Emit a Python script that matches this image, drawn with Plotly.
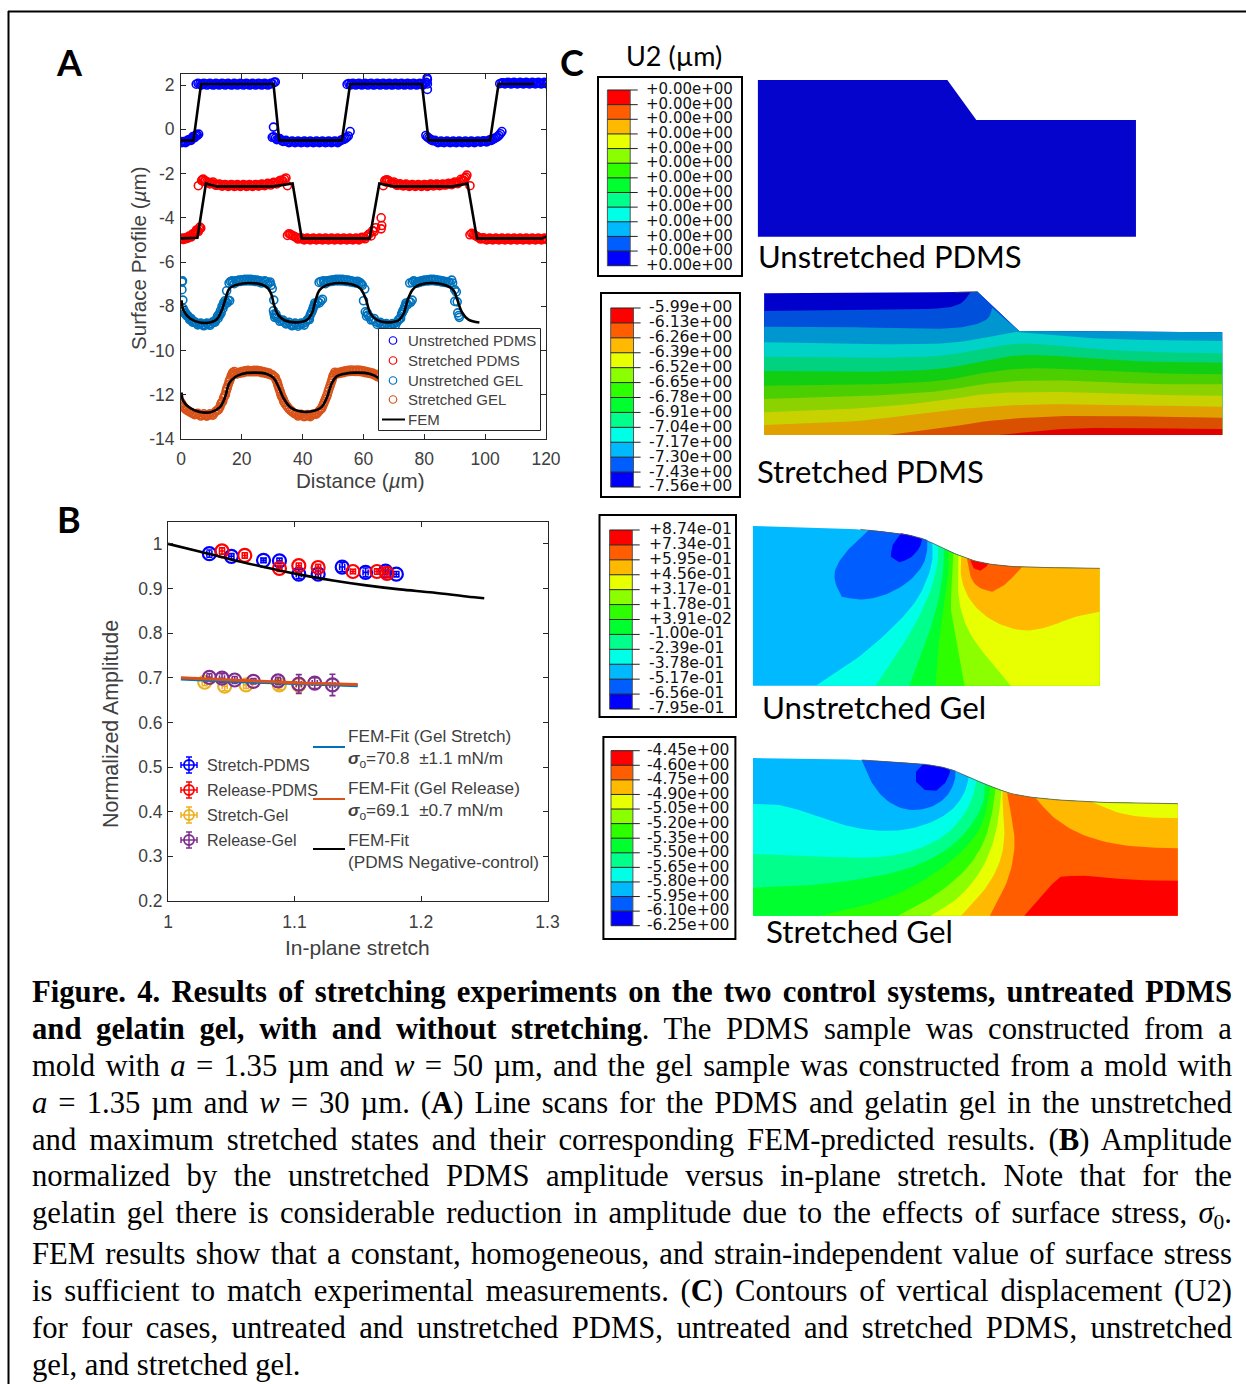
import plotly.graph_objects as go

W, H = 1246, 1384
SANS = "Liberation Sans"
SERIF = "Liberation Serif"
CAL = "Lato"
ABQ = "DejaVu Sans"
AXC = "#262626"
TXT = "#404040"

# ---------- Panel A data ----------
PDMS_UN = [(0,-.55),(.6,-.57),(1.2,-.58),(1.8,-.55),(2.4,-.52),(3,-.48),(3.6,-.42),(4.2,-.35),(4.8,-.3),(5.4,-.27),(5.8,-.22),
(5,2.04),(5.6,2.08),(6.2,2.05),(7,2.03),(8,2.06),(9,2.03),(10,2.05),(11,2.02),(12,2.05),(13,2.03),(14,2.06),(15,2.03),(16,2.04),(17,2.02),(18,2.05),(19,2.03),(20,2.06),(21,2.03),(22,2.05),(23,2.02),(24,2.05),(25,2.03),(26,2.06),(27,2.03),(28,2.04),(29,2.03),(30,2.06),(30.6,2.12),(31,2.14),
(30.4,.1),(30,-.36),(30.5,-.34),(31,-.4),(32,-.45),(33,-.5),(34,-.54),(35,-.56),(36,-.57),(37,-.55),(38,-.57),(39,-.56),(40,-.58),(41,-.55),(42,-.57),(43,-.56),(44,-.58),(45,-.55),(46,-.57),(47,-.56),(48,-.58),(49,-.55),(50,-.57),(51,-.55),(52,-.55),(53,-.48),(54,-.42),(55,-.3),(55.6,-.1),
(54.6,2.03),(55.2,2.07),(56,2.05),(57,2.03),(58,2.06),(59,2.03),(60,2.05),(61,2.03),(62,2.06),(63,2.02),(64,2.05),(65,2.03),(66,2.06),(67,2.03),(68,2.05),(69,2.02),(70,2.05),(71,2.03),(72,2.06),(73,2.03),(74,2.05),(75,2.03),(76,2.06),(77,2.03),(78,2.05),(79,2.05),(80,2.06),(80.6,2.12),(81,2.05),(80.9,2.32),(81,2.25),(81,1.8),
(80.5,-.28),(81,-.35),(82,-.45),(83,-.52),(84,-.55),(85,-.57),(86,-.58),(87,-.55),(88,-.57),(89,-.56),(90,-.58),(91,-.55),(92,-.57),(93,-.56),(94,-.58),(95,-.55),(96,-.57),(97,-.56),(98,-.55),(99,-.54),(100,-.55),(101,-.52),(102,-.5),(103,-.42),(104,-.34),(105,-.2),(105.5,-.1),
(104.8,2.06),(105.5,2.1),(106,2.1),(107,2.08),(108,2.1),(109,2.07),(110,2.09),(111,2.07),(112,2.1),(113,2.07),(114,2.09),(115,2.07),(116,2.1),(117,2.08),(118,2.07),(119,2.09),(120,2.08),(120.6,2.1)]
PDMS_UN_2 = [(.3,-.6),(.9,-.55),(1.5,-.6),(2.1,-.5),(2.7,-.46),(3.3,-.5),(3.9,-.33),(4.5,-.38),(5.1,-.24),
(6.6,2.0),(7.5,2.08),(8.5,2.0),(9.5,2.08),(10.5,2.0),(11.5,2.08),(12.5,2.0),(13.5,2.08),(14.5,2.0),(15.5,2.08),(16.5,2.0),(17.5,2.08),(18.5,2.0),(19.5,2.08),(20.5,2.0),(21.5,2.08),(22.5,2.0),(23.5,2.08),(24.5,2.0),(25.5,2.08),(26.5,2.0),(27.5,2.08),(28.5,2.0),(29.5,2.08),
(31.5,-.47),(32.5,-.42),(33.5,-.55),(34.5,-.5),(35.5,-.6),(36.5,-.53),(37.5,-.6),(38.5,-.53),(39.5,-.6),(40.5,-.53),(41.5,-.6),(42.5,-.53),(43.5,-.6),(44.5,-.53),(45.5,-.6),(46.5,-.53),(47.5,-.6),(48.5,-.53),(49.5,-.6),(50.5,-.53),(51.5,-.6),(52.5,-.5),(53.5,-.45),(54.5,-.36),
(55.7,2.0),(56.5,2.08),(57.5,2.0),(58.5,2.08),(59.5,2.0),(60.5,2.08),(61.5,2.0),(62.5,2.08),(63.5,2.0),(64.5,2.08),(65.5,2.0),(66.5,2.08),(67.5,2.0),(68.5,2.08),(69.5,2.0),(70.5,2.08),(71.5,2.0),(72.5,2.08),(73.5,2.0),(74.5,2.08),(75.5,2.0),(76.5,2.08),(77.5,2.0),(78.5,2.08),(79.5,2.0),
(81.5,-.4),(82.5,-.5),(83.5,-.5),(84.5,-.6),(85.5,-.53),(86.5,-.6),(87.5,-.53),(88.5,-.6),(89.5,-.53),(90.5,-.6),(91.5,-.53),(92.5,-.6),(93.5,-.53),(94.5,-.6),(95.5,-.53),(96.5,-.6),(97.5,-.53),(98.5,-.58),(99.5,-.52),(100.5,-.57),(101.5,-.48),(102.5,-.46),(103.5,-.38),(104.5,-.28),
(106.5,2.05),(107.5,2.12),(108.5,2.05),(109.5,2.12),(110.5,2.05),(111.5,2.12),(112.5,2.05),(113.5,2.12),(114.5,2.05),(115.5,2.12),(116.5,2.05),(117.5,2.12),(118.5,2.05),(119.5,2.12),(120.3,2.05)]

PDMS_ST = [(0,-4.95),(.6,-4.96),(1.2,-4.95),(1.8,-4.93),(2.4,-4.88),(3,-4.85),(3.6,-4.8),(4.2,-4.75),(4.8,-4.65),(5.4,-4.58),(6,-4.52),(6.5,-4.47),
(5.7,-2.55),(6.8,-2.32),(7.3,-2.25),(8,-2.33),(9,-2.4),(10,-2.43),(11,-2.48),(12,-2.52),(13,-2.5),(14,-2.54),(15,-2.52),(16,-2.55),(17,-2.52),(18,-2.56),(19,-2.53),(20,-2.55),(21,-2.52),(22,-2.56),(23,-2.53),(24,-2.54),(25,-2.52),(26,-2.53),(27,-2.5),(28,-2.5),(29,-2.47),(30,-2.44),(31,-2.42),(32,-2.38),(33,-2.3),(34,-2.25),(34.5,-2.2),(35,-2.55),
(35,-4.8),(35.5,-4.72),(36,-4.75),(37,-4.82),(38,-4.9),(39,-4.93),(40,-4.96),(41,-4.95),(42,-4.97),(43,-4.95),(44,-4.97),(45,-4.95),(46,-4.97),(47,-4.95),(48,-4.97),(49,-4.95),(50,-4.97),(51,-4.95),(52,-4.97),(53,-4.95),(54,-4.97),(55,-4.95),(56,-4.97),(57,-4.95),(58,-4.96),(59,-4.93),(60,-4.9),(61,-4.85),(62,-4.72),(63,-4.58),(64,-4.45),(65.8,-4.0),(66,-4.35),(65.8,-4.5),
(66.5,-2.55),(67,-2.32),(67.6,-2.28),(68.5,-2.35),(69.5,-2.42),(70.5,-2.47),(71.5,-2.5),(72.5,-2.52),(73.5,-2.54),(74.5,-2.52),(75.5,-2.55),(76.5,-2.52),(77.5,-2.55),(78.5,-2.52),(79.5,-2.55),(80.5,-2.52),(81.5,-2.54),(82.5,-2.5),(83.5,-2.52),(84.5,-2.5),(85.5,-2.52),(86.5,-2.5),(87.5,-2.48),(88.5,-2.47),(89.5,-2.45),(90.5,-2.42),(91.5,-2.38),(92.5,-2.3),(93.2,-2.22),(94,-2.07),(95,-2.55),
(95,-4.77),(95.6,-4.7),(96.2,-4.75),(97,-4.82),(98,-4.9),(99,-4.93),(100,-4.96),(101,-4.95),(102,-4.97),(103,-4.95),(104,-4.97),(105,-4.95),(106,-4.97),(107,-4.95),(108,-4.97),(109,-4.95),(110,-4.97),(111,-4.95),(112,-4.97),(113,-4.95),(114,-4.97),(115,-4.95),(116,-4.97),(117,-4.95),(118,-4.96),(119,-4.95),(120,-4.96)]
PDMS_ST_2 = [(.3,-4.92),(.9,-4.98),(1.5,-4.9),(2.1,-4.93),(2.7,-4.82),(3.3,-4.87),(3.9,-4.72),(4.5,-4.72),(5.1,-4.55),(5.7,-4.62),(6.2,-4.42),
(7,-2.28),(7.6,-2.36),(8.5,-2.38),(9.5,-2.47),(10.5,-2.38),(11.5,-2.53),(12.5,-2.47),(13.5,-2.57),(14.5,-2.5),(15.5,-2.58),(16.5,-2.5),(17.5,-2.58),(18.5,-2.5),(19.5,-2.58),(20.5,-2.5),(21.5,-2.58),(22.5,-2.5),(23.5,-2.58),(24.5,-2.5),(25.5,-2.57),(26.5,-2.47),(27.5,-2.55),(28.5,-2.44),(29.5,-2.52),(30.5,-2.4),(31.5,-2.47),(32.5,-2.32),(33.5,-2.34),
(36.5,-4.8),(37.5,-4.86),(38.5,-4.96),(39.5,-4.9),(40.5,-5.0),(41.5,-4.92),(42.5,-5.0),(43.5,-4.92),(44.5,-5.0),(45.5,-4.92),(46.5,-5.0),(47.5,-4.92),(48.5,-5.0),(49.5,-4.92),(50.5,-5.0),(51.5,-4.92),(52.5,-5.0),(53.5,-4.92),(54.5,-5.0),(55.5,-4.92),(56.5,-5.0),(57.5,-4.92),(58.5,-5.0),(59.5,-4.88),(60.5,-4.95),(61.5,-4.78),(62.5,-4.82),(63.5,-4.62),
(67.3,-2.38),(68,-2.3),(69,-2.42),(70,-2.38),(71,-2.53),(72,-2.46),(73,-2.56),(74,-2.48),(75,-2.58),(76,-2.5),(77,-2.58),(78,-2.5),(79,-2.58),(80,-2.5),(81,-2.58),(82,-2.48),(83,-2.56),(84,-2.47),(85,-2.55),(86,-2.47),(87,-2.52),(88,-2.44),(89,-2.5),(90,-2.38),(91,-2.46),(92,-2.26),(93,-2.32),(93.7,-2.16),
(96.6,-4.8),(97.5,-4.86),(98.5,-4.96),(99.5,-4.9),(100.5,-5.0),(101.5,-4.92),(102.5,-5.0),(103.5,-4.92),(104.5,-5.0),(105.5,-4.92),(106.5,-5.0),(107.5,-4.92),(108.5,-5.0),(109.5,-4.92),(110.5,-5.0),(111.5,-4.92),(112.5,-5.0),(113.5,-4.92),(114.5,-5.0),(115.5,-4.92),(116.5,-5.0),(117.5,-4.92),(118.5,-5.0),(119.5,-4.92),(120.3,-4.98)]

GEL_UN = [(.3,-6.9),(.5,-6.85),(.3,-7.25),(.6,-7.72),(.7,-8.1),(1,-8.2),(1.5,-8.3),(2,-8.4),(2.5,-8.5),(3,-8.55),(3.5,-8.62),(4,-8.7),(5,-8.76),(6,-8.8),(7,-8.83),(8,-8.83),(9,-8.82),(10,-8.78),(11,-8.7),(11.5,-8.6),(12,-8.45),(12.5,-8.35),(13,-8.2),(13.5,-8.0),(14,-7.85),(14.5,-7.75),(15,-7.3),(15.5,-7.72),(16,-7.75),(15.8,-6.95),(16.3,-6.88),(17,-6.92),(18,-6.85),(19,-6.82),(20,-6.8),(21,-6.78),(22,-6.78),(23,-6.78),(24,-6.8),(25,-6.82),(26,-6.85),(27,-6.9),(28,-6.88),(29,-6.95),(29.6,-7.05),(30,-7.2),(30.5,-7.72),(30.4,-8.2),(30.6,-8.35),(31,-8.42),(31.5,-8.5),(32,-8.55),(33,-8.65),(34,-8.72),(35,-8.78),(36,-8.82),(37,-8.83),(38,-8.84),(39,-8.82),(40,-8.78),(41,-8.72),(42,-8.55),(42.5,-8.4),(43,-8.25),(43.5,-8.05),(44,-7.85),(45,-7.8),(46,-7.75),(46.5,-7.68),(45.4,-6.92),(46,-6.88),(47,-6.92),(48,-6.85),(49,-6.83),(50,-6.8),(51,-6.78),(52,-6.78),(53,-6.78),(54,-6.8),(55,-6.82),(56,-6.85),(57,-6.88),(58,-6.87),(59,-6.95),(59.6,-7.05),(60.4,-7.22),(60,-7.75),(60.6,-8.25),(61.5,-8.4),(62,-8.48),(63,-8.6),(64,-8.7),(65,-8.75),(66,-8.8),(67,-8.83),(68,-8.84),(69,-8.83),(70,-8.8),(71,-8.72),(72,-8.55),(72.5,-8.35),(73,-8.2),(73.5,-8.05),(74,-7.85),(75,-7.8),(76,-7.72),(75.2,-6.95),(76,-6.92),(77,-6.9),(78,-6.88),(79,-6.85),(80,-6.82),(81,-6.8),(82,-6.78),(83,-6.78),(84,-6.8),(85,-6.83),(86,-6.85),(87,-6.88),(88,-6.9),(89,-6.82),(89.3,-6.95),(90,-7.25),(90.5,-7.35),(90,-7.78),(90.8,-7.8),(91,-8.3),(91.3,-8.42),(91.5,-8.5)]
GEL_UN_2 = [(1.2,-8.32),(1.8,-8.42),(2.3,-8.44),(2.8,-8.6),(3.3,-8.55),(3.8,-8.72),(4.5,-8.7),(5.5,-8.84),(6.5,-8.76),(7.5,-8.88),(8.5,-8.76),(9.5,-8.86),(10.5,-8.7),(11.2,-8.72),(12.2,-8.55),(12.8,-8.4),(13.2,-8.3),(13.8,-8.1),(14.2,-7.95),(14.8,-7.85),(15.2,-7.85),(16.8,-6.85),(17.5,-6.98),(18.5,-6.9),(19.5,-6.88),(20.5,-6.86),(21.5,-6.85),(22.5,-6.85),(23.5,-6.86),(24.5,-6.88),(25.5,-6.9),(26.5,-6.95),(27.5,-6.85),(28.5,-7.0),(29.3,-6.9),
(30.8,-8.5),(31.2,-8.35),(32.5,-8.68),(33.5,-8.62),(34.5,-8.8),(35.5,-8.72),(36.5,-8.88),(37.5,-8.76),(38.5,-8.9),(39.5,-8.76),(40.5,-8.85),(41.5,-8.62),(42.2,-8.6),(42.8,-8.3),(43.3,-8.15),(43.8,-7.95),(44.5,-7.9),(45.5,-7.85),(46.8,-6.85),(47.5,-6.98),(48.5,-6.9),(49.5,-6.88),(50.5,-6.85),(51.5,-6.85),(52.5,-6.85),(53.5,-6.86),(54.5,-6.88),(55.5,-6.9),(56.5,-6.92),(57.5,-6.95),(58.5,-6.9),(59.3,-7.0),
(61,-8.45),(61.2,-8.3),(62.5,-8.62),(63.5,-8.55),(64.5,-8.82),(65.5,-8.72),(66.5,-8.88),(67.5,-8.78),(68.5,-8.9),(69.5,-8.78),(70.5,-8.86),(71.5,-8.62),(72.2,-8.55),(72.8,-8.28),(73.3,-8.15),(73.8,-7.95),(74.5,-7.92),(75.5,-7.82),(76.5,-6.85),(77.5,-6.96),(78.5,-6.92),(79.5,-6.88),(80.5,-6.86),(81.5,-6.85),(82.5,-6.84),(83.5,-6.85),(84.5,-6.87),(85.5,-6.9),(86.5,-6.92),(87.5,-6.94),(88.5,-6.96)]

GEL_ST = [(0,-12.35),(.6,-12.5),(1.2,-12.6),(2,-12.7),(3,-12.78),(4,-12.85),(5,-12.88),(6,-12.9),(7,-12.92),(8,-12.93),(9,-12.92),(10,-12.9),(11,-12.82),(12,-12.7),(12.8,-12.55),(13.4,-12.35),(14,-12.15),(14.6,-12),(15,-11.75),(15.5,-11.55),(16,-11.35),(16.5,-11.15),(17,-11.0),(17.5,-10.95),(18,-11.05),(19,-10.98),(20,-10.95),(21,-10.92),(22,-10.9),(23,-10.92),(24,-10.9),(25,-10.9),(26,-10.92),(27,-10.95),(28,-10.98),(29,-11.02),(30,-11.1),(31,-11.22),(31.6,-11.42),(32,-11.62),(32.6,-11.85),(33,-12.05),(33.6,-12.2),(34,-12.35),(35,-12.55),(36,-12.7),(37,-12.82),(38,-12.88),(39,-12.92),(40,-12.95),(41,-12.95),(42,-12.95),(43,-12.92),(44,-12.88),(45,-12.8),(46,-12.65),(46.6,-12.5),(47.2,-12.3),(47.8,-12.1),(48.4,-11.85),(49,-11.6),(49.6,-11.35),(50,-11.15),(50.6,-10.98),(51.2,-11.02),(52,-10.98),(53,-10.95),(54,-10.92),(55,-10.9),(56,-10.88),(57,-10.9),(58,-10.88),(59,-10.9),(60,-10.92),(61,-10.95),(62,-10.98),(63,-11.02),(64,-11.08),(65,-11.15),(66,-11.3)]
GEL_ST_2 = [(.3,-12.42),(.9,-12.55),(1.6,-12.66),(2.5,-12.74),(3.5,-12.82),(4.5,-12.9),(5.5,-12.84),(6.5,-12.96),(7.5,-12.86),(8.5,-12.97),(9.5,-12.86),(10.5,-12.92),(11.5,-12.74),(12.4,-12.66),(13.1,-12.42),(13.7,-12.3),(14.3,-12.05),(14.8,-11.85),(15.2,-11.68),(15.8,-11.42),(16.2,-11.28),(16.8,-11.08),(17.2,-11.06),(18.5,-11.06),(19.5,-11.02),(20.5,-11.0),(21.5,-10.96),(22.5,-10.96),(23.5,-10.96),(24.5,-10.96),(25.5,-10.96),(26.5,-11.0),(27.5,-11.02),(28.5,-11.06),(29.5,-11.1),(30.5,-11.16),(31.3,-11.34),(31.8,-11.52),(32.3,-11.74),(32.8,-11.95),(33.3,-12.12),(33.8,-12.3),(34.5,-12.46),(35.5,-12.64),(36.5,-12.76),(37.5,-12.86),(38.5,-12.96),(39.5,-12.88),(40.5,-12.99),(41.5,-12.9),(42.5,-12.99),(43.5,-12.87),(44.5,-12.88),(45.5,-12.72),(46.3,-12.6),(46.9,-12.4),(47.5,-12.2),(48.1,-12.0),(48.7,-11.72),(49.3,-11.48),(49.8,-11.25),(50.3,-11.08),(51.6,-11.05),(52.5,-11.02),(53.5,-11.0),(54.5,-10.96),(55.5,-10.95),(56.5,-10.94),(57.5,-10.95),(58.5,-10.95),(59.5,-10.97),(60.5,-11.0),(61.5,-11.02),(62.5,-11.05),(63.5,-11.1),(64.5,-11.18)]

FEM_PDMS_UN_X = [0,4.1,6.6,30.4,32.3,52.9,55.6,79.2,81.4,101.6,104.4,116]
FEM_PDMS_UN_Y = [-.5,-.5,2.05,2.05,-.5,-.5,2.05,2.05,-.5,-.5,2.05,2.05]
FEM_PDMS_ST_X = [0,5.4,8.2,11.7,30.4,36.7,39.7,62,65.2,69.8,89.5,94.2,97.3,118.6,120]
FEM_PDMS_ST_Y = [-4.93,-4.9,-2.45,-2.58,-2.58,-2.45,-4.93,-4.93,-2.45,-2.58,-2.58,-2.45,-4.93,-4.93,-4.85]
FEM_GEL_UN_X = [.2,.8,3,6.2,9.5,11.7,13.4,14.5,15.9,17.8,22,26.5,28.7,29.8,30.6,32,34,37.5,41.3,43,44.1,45.5,47.4,52,56.4,59,60.7,62.3,64.5,67.8,71.6,73.2,74.5,76,77.6,82,86.3,89.6,90.7,92.3,94.5,98.1]
FEM_GEL_UN_Y = [-7.73,-8.18,-8.55,-8.73,-8.73,-8.6,-8.18,-7.73,-7.2,-7.05,-6.95,-7.02,-7.2,-7.5,-7.95,-8.4,-8.63,-8.73,-8.63,-8.33,-7.8,-7.28,-7.08,-6.95,-7.02,-7.2,-7.65,-8.33,-8.63,-8.73,-8.63,-8.33,-7.73,-7.28,-7.08,-6.95,-7.02,-7.28,-7.65,-8.25,-8.6,-8.73]
FEM_GEL_ST_X = [.2,.8,3,6.2,10,12.8,14.4,15.9,17.8,20,23.8,28.2,30.4,32,33.7,35.9,39.1,43,46.2,47.9,49.6,51.2,53.4,57.8,62.2,64.9,66.5]
FEM_GEL_ST_Y = [-11.9,-12.3,-12.6,-12.78,-12.78,-12.56,-12.15,-11.47,-11.2,-11.06,-11,-11.06,-11.24,-11.62,-12.15,-12.56,-12.75,-12.75,-12.56,-12.15,-11.47,-11.17,-11.06,-11,-11.06,-11.24,-11.5]
A_XTICKS = [0,20,40,60,80,100,120]
A_YTICKS = [2,0,-2,-4,-6,-8,-10,-12,-14]
A_YLABELS = ["2","0","-2","-4","-6","-8","-10","-12","-14"]
A_NAMES = ["Unstretched PDMS","Stretched PDMS","Unstretched GEL","Stretched GEL","FEM"]

# ---------- Panel B data ----------
B_STRETCH_PDMS_X = [1.0327,1.0501,1.0755,1.0881,1.1034,1.1187,1.1377,1.1562,1.172,1.1805]
B_STRETCH_PDMS_Y = [.978,.972,.963,.962,.932,.932,.948,.936,.939,.932]
B_STRETCH_PDMS_E = [.008,.006,.005,.006,.010,.008,.010,.010,.008,.006]
B_RELEASE_PDMS_X = [1.0427,1.0607,1.0881,1.1034,1.1187,1.1462,1.1652,1.1731]
B_RELEASE_PDMS_Y = [.984,.974,.945,.951,.947,.938,.938,.934]
B_RELEASE_PDMS_E = [.007,.006,.007,.006,.007,.005,.006,.008]
B_STRETCH_GEL_X = [1.029,1.0448,1.0617,1.088,1.1034]
B_STRETCH_GEL_Y = [.690,.681,.684,.684,.684]
B_STRETCH_GEL_E = [.008,.010,.008,.010,.016]
B_RELEASE_GEL_X = [1.0327,1.0427,1.0527,1.0675,1.087,1.1034,1.116,1.13]
B_RELEASE_GEL_Y = [.701,.699,.695,.692,.693,.686,.688,.684]
B_RELEASE_GEL_E = [.008,.010,.008,.006,.008,.021,.012,.024]
B_FEM_NEG_X = [1.0,1.0248,1.0512,1.0776,1.104,1.1304,1.1568,1.1832,1.2096,1.236,1.25]
B_FEM_NEG_Y = [1.0,.983,.964,.947,.931,.918,.907,.898,.891,.882,.878]
B_FEM_STRETCH_X = [1.0102,1.05,1.1,1.15]
B_FEM_STRETCH_Y = [.697,.692,.687,.682]
B_FEM_RELEASE_X = [1.0102,1.05,1.1,1.15]
B_FEM_RELEASE_Y = [.700,.695,.689,.685]
B_XTICKS = [1,1.1,1.2,1.3]
B_XLABELS = ["1","1.1","1.2","1.3"]
B_YTICKS = [.2,.3,.4,.5,.6,.7,.8,.9,1]
B_YLABELS = ["0.2","0.3","0.4","0.5","0.6","0.7","0.8","0.9","1"]
B_KEYS = ["Stretch-PDMS","Release-PDMS","Stretch-Gel","Release-Gel"]

# ---------- Panel C data ----------
CMAP = ["#FF0000","#FF5D00","#FFB900","#E7FF00","#8BFF00","#2EFF00","#00FF2E","#00FF8B","#00FFE7","#00B9FF","#005DFF","#0000FF"]
LABELS_1 = ["+0.00e+00"]*13
LABELS_2 = ["-5.99e+00","-6.13e+00","-6.26e+00","-6.39e+00","-6.52e+00","-6.65e+00","-6.78e+00","-6.91e+00","-7.04e+00","-7.17e+00","-7.30e+00","-7.43e+00","-7.56e+00"]
LABELS_3 = ["+8.74e-01","+7.34e-01","+5.95e-01","+4.56e-01","+3.17e-01","+1.78e-01","+3.91e-02","-1.00e-01","-2.39e-01","-3.78e-01","-5.17e-01","-6.56e-01","-7.95e-01"]
LABELS_4 = ["-4.45e+00","-4.60e+00","-4.75e+00","-4.90e+00","-5.05e+00","-5.20e+00","-5.35e+00","-5.50e+00","-5.65e+00","-5.80e+00","-5.95e+00","-6.10e+00","-6.25e+00"]

# Contour regions (panel-local units); painted in order.
P1 = [("#0404CC",[(405,120),(862,120),(932,240),(1317,240),(1317,590),(405,590)])]

P2 = [
("#0000CC",[(420,25),(700,24),(935,20),(1035,138),(1525,142),(1525,450),(420,450)]),
("#0050DC",[(420,78),(700,75),(850,72),(890,60),(905,45),(918,22),(935,20),(1035,138),(1525,142),(1525,450),(420,450)]),
("#0096D0",[(420,125),(600,125),(800,132),(880,130),(920,122),(950,110),(965,95),(970,68),(1035,138),(1525,142),(1525,450),(420,450)]),
("#00D2C8",[(420,172),(650,178),(850,178),(950,160),(1020,140),(1045,142),(1150,155),(1300,165),(1525,168),(1525,450),(420,450)]),
("#00D27F",[(420,215),(650,220),(850,215),(950,190),(1040,172),(1150,185),(1300,200),(1525,205),(1525,450),(420,450)]),
("#12CE12",[(420,258),(650,262),(850,255),(950,225),(1050,207),(1150,215),(1300,230),(1525,233),(1525,450),(420,450)]),
("#4CCF00",[(420,302),(650,300),(850,290),(950,262),(1060,247),(1200,255),(1350,265),(1525,268),(1525,450),(420,450)]),
("#8CD200",[(420,342),(650,335),(850,320),(950,295),(1070,285),(1200,288),(1350,298),(1525,298),(1525,450),(420,450)]),
("#C8D200",[(420,382),(650,372),(850,348),(950,325),(1080,320),(1200,322),(1350,330),(1525,332),(1525,450),(420,450)]),
("#E0A000",[(420,420),(650,410),(800,385),(900,370),(1050,358),(1180,358),(1350,362),(1525,365),(1525,450),(420,450)]),
("#D85000",[(720,450),(850,430),(950,408),(1080,395),(1200,392),(1350,395),(1525,398),(1525,450)]),
("#E00000",[(985,450),(1100,435),(1200,428),(1350,430),(1525,432),(1525,450)]),
]

P3_OUT = [(482,48),(650,52),(800,58),(900,68),(960,78),(1000,92),(1050,118),(1100,140),(1150,157),(1220,168),(1300,172),(1508,175)]
P3 = [
("#00B9FF",P3_OUT+[(1508,527),(482,527)]),
("#005DFF",[(825,60),(770,110),(725,170),(722,215),(745,260),(800,272),(870,258),(940,220),(985,170),(998,125),(998,90),(960,78),(900,68)]),
("#0000FF",[(920,70),(893,105),(890,140),(915,157),(950,145),(978,110),(982,88),(960,78)]),
("#00FFE7",[(668,527),(800,440),(900,350),(970,270),(1005,190),(1015,140),(1012,98),(1050,118),(1100,140),(1150,157),(1220,168),(1300,172),(1508,175),(1508,527)]),
("#00FF8B",[(845,527),(910,430),(965,340),(1010,240),(1030,160),(1030,108),(1050,118),(1100,140),(1150,157),(1220,168),(1300,172),(1508,175),(1508,527)]),
("#00FF2E",[(945,527),(985,420),(1020,320),(1045,200),(1048,117),(1100,140),(1150,157),(1220,168),(1300,172),(1508,175),(1508,527)]),
("#2EFF00",[(1022,527),(1030,400),(1050,280),(1062,180),(1060,124),(1100,140),(1150,157),(1220,168),(1300,172),(1508,175),(1508,527)]),
("#8BFF00",[(1108,527),(1085,400),(1065,300),(1072,200),(1075,130),(1100,140),(1150,157),(1220,168),(1300,172),(1508,175),(1508,527)]),
("#E7FF00",[(1245,527),(1180,450),(1120,370),(1090,280),(1088,190),(1090,136),(1100,140),(1150,157),(1220,168),(1300,172),(1508,175),(1508,527)]),
("#FFB900",[(1098,140),(1095,200),(1120,270),(1180,330),(1270,365),(1350,355),(1430,320),(1508,305),(1508,175),(1300,172),(1220,168),(1150,157)]),
("#FF5D00",[(1115,145),(1125,205),(1150,235),(1190,245),(1230,225),(1278,171),(1220,168),(1150,157)]),
("#FF0000",[(1125,150),(1135,175),(1155,182),(1172,172),(1178,160),(1150,157)]),
]

P4_OUT = [(426,84),(600,86),(710,90),(800,96),(880,103),(930,113),(970,130),(1020,157),(1060,175),(1100,192),(1170,205),(1260,213),(1350,218),(1536,221)]
P4_TAIL = [(1060,175),(1100,192),(1170,205),(1260,213),(1350,218),(1536,221),(1536,557)]
P4 = [
("#00B9FF",P4_OUT+[(1536,557),(426,557)]),
("#005DFF",[(710,90),(735,160),(775,215),(830,243),(890,235),(935,200),(955,150),(955,122),(930,113),(880,103),(800,96)]),
("#0000FF",[(870,103),(852,125),(852,155),(875,180),(905,182),(930,160),(942,122),(930,113),(880,103)]),
("#00FFE7",[(426,222),(500,222),(600,262),(700,298),(800,305),(880,285),(945,245),(980,190),(990,140),(1020,157)]+P4_TAIL+[(426,557)]),
("#00FF8B",[(426,372),(550,376),(700,385),(800,378),(900,340),(960,285),(1000,210),(1010,150),(1020,157)]+P4_TAIL+[(426,557)]),
("#00FF2E",[(426,473),(560,468),(700,450),(830,420),(930,365),(990,300),(1030,220),(1032,163)]+P4_TAIL+[(426,557)]),
("#2EFF00",[(600,557),(750,520),(880,450),(980,360),(1030,280),(1047,169)]+P4_TAIL),
("#8BFF00",[(805,557),(900,500),(985,420),(1030,340),(1050,260),(1060,175)]+P4_TAIL[1:]),
("#E7FF00",[(890,557),(960,510),(1020,430),(1055,340),(1070,250),(1075,181)]+P4_TAIL[1:]),
("#FFB900",[(970,557),(1040,470),(1075,390),(1085,310),(1078,235),(1078,184)]+P4_TAIL[1:]),
("#FF5D00",[(1045,557),(1095,450),(1112,350),(1105,280),(1090,189),(1100,192),(1165,205),(1210,265),(1290,320),(1400,350),(1536,355),(1536,557)]),
("#FF0000",[(1135,557),(1200,470),(1230,440),(1290,435),(1400,450),(1536,452),(1536,557)]),
("#E7FF00",[(1310,216),(1380,250),(1450,263),(1536,264),(1536,221),(1350,218)]),
]
P3_EDGE = P3_OUT[2:]
P4_EDGE = P4_OUT[2:]
P2_EDGE = [(880,22),(935,20)]

CAPTION = [
"<b>Figure. 4. Results of stretching experiments on the two control systems, untreated PDMS</b>",
"<b>and gelatin gel, with and without stretching</b>. The PDMS sample was constructed from a",
"mold with <i>a</i> = 1.35 µm and <i>w</i> = 50 µm, and the gel sample was constructed from a mold with",
"<i>a</i> = 1.35 µm and <i>w</i> = 30 µm. (<b>A</b>) Line scans for the PDMS and gelatin gel in the unstretched",
"and maximum stretched states and their corresponding FEM-predicted results. (<b>B</b>) Amplitude",
"normalized by the unstretched PDMS amplitude versus in-plane stretch. Note that for the",
"gelatin gel there is considerable reduction in amplitude due to the effects of surface stress, <i>σ</i><sub>0</sub>.",
"FEM results show that a constant, homogeneous, and strain-independent value of surface stress",
"is sufficient to match experimental measurements. (<b>C</b>) Contours of vertical displacement (U2)",
"for four cases, untreated and unstretched PDMS, untreated and stretched PDMS, unstretched",
"gel, and stretched gel.",
]
CAPTION_Y = [992,1029,1066,1103,1140,1176,1215,1254,1291,1328,1365]

# ---------- helpers ----------
fx = lambda x: x / W
fy = lambda y: 1 - y / H
ann, shapes = [], []

def text(x, y, s, size, font=SANS, color="black", anchor="left", angle=0):
    ann.append(dict(x=fx(x), y=fy(y), xref="paper", yref="paper", text=s, showarrow=False, xanchor=anchor,
                    yanchor="middle", align=anchor, textangle=angle, borderpad=0, borderwidth=0,
                    font=dict(family=font, size=size, color=color)))

def rect(x0, y0, x1, y1, fill=None, line=None, lw=1):
    shapes.append(dict(type="rect", xref="paper", yref="paper", x0=fx(x0), x1=fx(x1), y0=fy(y0), y1=fy(y1),
                       fillcolor=fill or "rgba(0,0,0,0)", line=dict(color=line or "rgba(0,0,0,0)", width=lw if line else 0)))

def seg(x0, y0, x1, y1, color="black", lw=1):
    shapes.append(dict(type="line", xref="paper", yref="paper", x0=fx(x0), x1=fx(x1), y0=fy(y0), y1=fy(y1),
                       line=dict(color=color, width=lw)))

def soften(pts, closed=True, rounds=3, corner=38):
    """Round the drawn outline between read points, keeping sharp corners."""
    import math
    pts = list(pts)
    for _ in range(rounds):
        out = []
        n = len(pts)
        for i, v in enumerate(pts):
            if not closed and (i == 0 or i == n - 1):
                out.append(v)
                continue
            a, b = pts[(i - 1) % n], pts[(i + 1) % n]
            t1 = math.atan2(v[1] - a[1], v[0] - a[0])
            t2 = math.atan2(b[1] - v[1], b[0] - v[0])
            turn = abs((t2 - t1 + math.pi) % (2 * math.pi) - math.pi)
            if math.degrees(turn) > corner:
                out.append(v)
            else:
                out.append((v[0] + (a[0] - v[0]) * .25, v[1] + (a[1] - v[1]) * .25))
                out.append((v[0] + (b[0] - v[0]) * .25, v[1] + (b[1] - v[1]) * .25))
        pts = out
    return pts

fig = go.Figure()

# ---------- Panel A ----------
def ptrace(data, extra, color, name):
    data = data + extra
    fig.add_trace(go.Scatter(x=[p[0] for p in data], y=[p[1] for p in data], mode="markers", name=name, showlegend=False,
                             marker=dict(symbol="circle-open", size=8, color=color, line=dict(width=1.6, color=color)),
                             xaxis="x", yaxis="y"))
ptrace(PDMS_UN, PDMS_UN_2, "#0000FF", A_NAMES[0])
ptrace(PDMS_ST, PDMS_ST_2, "#FF0000", A_NAMES[1])
ptrace(GEL_UN, GEL_UN_2, "#0072BD", A_NAMES[2])
ptrace(GEL_ST, GEL_ST_2, "#D95319", A_NAMES[3])
for xs, ys, sh in [(FEM_PDMS_UN_X, FEM_PDMS_UN_Y, "linear"), (FEM_PDMS_ST_X, FEM_PDMS_ST_Y, "linear"),
                   (FEM_GEL_UN_X, FEM_GEL_UN_Y, "spline"), (FEM_GEL_ST_X, FEM_GEL_ST_Y, "spline")]:
    fig.add_trace(go.Scatter(x=xs, y=ys, mode="lines", name=A_NAMES[4], showlegend=False, xaxis="x", yaxis="y",
                             line=dict(color="black", width=2.6, shape=sh)))

# Legend of A, drawn on the hidden full-page axis
fig.add_trace(go.Scatter(x=[378.5, 540.5, 540.5, 378.5, 378.5], y=[328.5, 328.5, 430.5, 430.5, 328.5], mode="lines", fill="toself",
                         fillcolor="white", line=dict(color=AXC, width=1), showlegend=False, hoverinfo="skip", xaxis="x7", yaxis="y7"))
LEG_Y = [340.5, 360.5, 380.5, 399.5, 419.5]
for c, ly, nm in zip(["#0000FF", "#FF0000", "#0072BD", "#D95319"], LEG_Y, A_NAMES):
    fig.add_trace(go.Scatter(x=[393], y=[ly], mode="markers", showlegend=False, name=nm, xaxis="x7", yaxis="y7",
                             marker=dict(symbol="circle-open", size=7.5, color=c, line=dict(width=1.2, color=c))))
fig.add_trace(go.Scatter(x=[382, 405], y=[LEG_Y[4], LEG_Y[4]], mode="lines", showlegend=False, name=A_NAMES[4], xaxis="x7", yaxis="y7",
                         line=dict(color="black", width=2)))
for ly, nm in zip(LEG_Y, A_NAMES):
    text(408, ly, nm, 15, color=TXT)

# ---------- Panel B ----------
def btrace(xs, ys, es, color, name):
    fig.add_trace(go.Scatter(x=xs, y=ys, mode="markers", name=name, showlegend=False, xaxis="x2", yaxis="y2",
                             marker=dict(symbol="circle-open", size=13, color=color, line=dict(width=2.2, color=color)),
                             error_y=dict(type="data", array=es, color=color, thickness=1.6, width=3),
                             error_x=dict(type="data", array=[.002] * len(xs), color=color, thickness=1.6, width=3)))
btrace(B_STRETCH_GEL_X, B_STRETCH_GEL_Y, B_STRETCH_GEL_E, "#EDB120", B_KEYS[2])
btrace(B_RELEASE_GEL_X, B_RELEASE_GEL_Y, B_RELEASE_GEL_E, "#7E2F8E", B_KEYS[3])
btrace(B_STRETCH_PDMS_X, B_STRETCH_PDMS_Y, B_STRETCH_PDMS_E, "#0000FF", B_KEYS[0])
btrace(B_RELEASE_PDMS_X, B_RELEASE_PDMS_Y, B_RELEASE_PDMS_E, "#FF0000", B_KEYS[1])
for xs, ys, c, nm, w in [(B_FEM_NEG_X, B_FEM_NEG_Y, "black", "FEM-Fit (PDMS Negative-control)", 2.6),
                         (B_FEM_STRETCH_X, B_FEM_STRETCH_Y, "#0072BD", "FEM-Fit (Gel Stretch)", 3),
                         (B_FEM_RELEASE_X, B_FEM_RELEASE_Y, "#D95319", "FEM-Fit (Gel Release)", 3)]:
    fig.add_trace(go.Scatter(x=xs, y=ys, mode="lines", name=nm, showlegend=False, xaxis="x2", yaxis="y2",
                             line=dict(color=c, width=w, shape="spline")))

KEY_COLORS = ["#0000FF", "#FF0000", "#EDB120", "#7E2F8E"]
KEY_Y = [765, 790, 815, 840]
for c, ky, nm in zip(KEY_COLORS, KEY_Y, B_KEYS):
    fig.add_trace(go.Scatter(x=[189], y=[ky], mode="markers", showlegend=False, name=nm, xaxis="x7", yaxis="y7",
                             marker=dict(symbol="circle-open", size=10, color=c, line=dict(width=1.8, color=c)),
                             error_y=dict(type="data", array=[8], color=c, thickness=1.5, width=3),
                             error_x=dict(type="data", array=[8], color=c, thickness=1.5, width=3)))
    text(207, ky, nm, 16.1, color=TXT)
seg(313, 747, 345, 747, "#0072BD", 2)
seg(313, 799, 345, 799, "#D95319", 2)
seg(313, 849, 345, 849, "black", 2)
text(348, 736, "FEM-Fit (Gel Stretch)", 17.2, color=TXT)
text(348, 759, "<b><i>σ</i></b><sub>o</sub>=70.8  ±1.1 mN/m", 17.2, color=TXT)
text(348, 788, "FEM-Fit (Gel Release)", 17.2, color=TXT)
text(348, 811, "<b><i>σ</i></b><sub>o</sub>=69.1  ±0.7 mN/m", 17.2, color=TXT)
text(348, 840, "FEM-Fit", 17.2, color=TXT)
text(348, 862, "(PDMS Negative-control)", 17.2, color=TXT)

# axis titles
text(139, 258, "Surface Profile (<i>µ</i>m)", 20.6, color=TXT, anchor="center", angle=-90)
text(360, 480, "Distance (<i>µ</i>m)", 20.6, color=TXT, anchor="center")
text(111, 724, "Normalized Amplitude", 21.4, color=TXT, anchor="center", angle=-90)
text(357, 947, "In-plane stretch", 21, color=TXT, anchor="center")

# ---------- Panel C ----------
def panel(n, crop, yh, regions, edge=None):
    x0, y0, x1, y1 = crop
    fig.layout[f"xaxis{n}"] = dict(domain=[fx(x0), fx(x1)], range=[0, 1568], visible=False, anchor=f"y{n}", fixedrange=True)
    fig.layout[f"yaxis{n}"] = dict(domain=[fy(y1), fy(y0)], range=[yh, 0], visible=False, anchor=f"x{n}", fixedrange=True)
    for color, poly in regions:
        poly = soften(poly)
        xs = [p[0] for p in poly] + [poly[0][0]]
        ys = [p[1] for p in poly] + [poly[0][1]]
        fig.add_trace(go.Scatter(x=xs, y=ys, mode="lines", fill="toself", fillcolor=color, line=dict(width=0, color=color),
                                 showlegend=False, hoverinfo="skip", xaxis=f"x{n}", yaxis=f"y{n}"))
    if edge:
        edge = soften(edge, closed=False)
        fig.add_trace(go.Scatter(x=[p[0] for p in edge], y=[p[1] for p in edge], mode="lines", showlegend=False,
                                 hoverinfo="skip", line=dict(color="#555555", width=.8), xaxis=f"x{n}", yaxis=f"y{n}"))

panel(3, (590, 40, 1240, 290), 750, P1)
panel(4, (590, 285, 1240, 500), 645, P2, P2_EDGE)
panel(5, (590, 510, 1120, 730), 660, P3, P3_EDGE)
panel(6, (590, 730, 1190, 950), 660, P4, P4_EDGE)

def cbar(box, cx0, cx1, cy0, cy1, tick_x, lab_x, lab_y0, lab_y1, labels, size=15):
    rect(*box, fill="white", line="black", lw=2)
    h = (cy1 - cy0) / 12
    for i, c in enumerate(CMAP):
        rect(cx0, cy0 + i * h, cx1, cy0 + (i + 1) * h, fill=c)
    seg(cx0, cy0, cx0, cy1, "#555", 1)
    seg(cx1, cy0, cx1, cy1, "#555", 1)
    for i in range(13):
        seg(cx0, cy0 + i * h, tick_x, cy0 + i * h, "#222", 1)
        text(lab_x, lab_y0 + i * (lab_y1 - lab_y0) / 12, labels[i], size, font=ABQ, color="#111")

cbar((598, 77, 742, 276), 607.4, 630.2, 90, 265.7, 637.7, 646, 89, 265, LABELS_1)
cbar((601, 293, 740, 497), 610.7, 633.5, 308, 487, 640.6, 649, 306.7, 486, LABELS_2, 15.7)
cbar((599.5, 515, 736, 717), 609.6, 632.3, 530, 709, 639.7, 649, 529, 708, LABELS_3, 15.6)
cbar((603.4, 737, 735.4, 939), 611, 632.9, 750.7, 925.7, 639.8, 647.4, 750, 925, LABELS_4, 15.5)

text(674, 55, "U2 (µm)", 27, font=CAL, anchor="center")
text(758, 256, "Unstretched PDMS", 31, font=CAL)
text(757, 471.5, "Stretched PDMS", 31, font=CAL)
text(762, 706.5, "Unstretched Gel", 31.3, font=CAL)
text(766, 930.5, "Stretched Gel", 31.3, font=CAL)
text(56, 62, "<b>A</b>", 36, font=CAL)
text(57, 519, "<b>B</b>", 36, font=CAL)
text(560, 62, "<b>C</b>", 36, font=CAL)

# frame
seg(8, 11.5, W, 11.5, "black", 2)
seg(8.5, 11, 8.5, H, "black", 2)

# caption
cap_start = len(ann)
for s, y in zip(CAPTION, CAPTION_Y):
    text(32, y, s, 30.7, font=SERIF, color="black")

AX = dict(showline=True, linecolor=AXC, linewidth=1, mirror="ticks", ticks="inside", ticklen=5, tickcolor=AXC,
          showgrid=False, zeroline=False, fixedrange=True, tickfont=dict(family=SANS, size=17.5, color=TXT))

fig.update_layout(
    width=W, height=H, margin=dict(l=0, r=0, t=0, b=0, autoexpand=False), paper_bgcolor="white", plot_bgcolor="rgba(0,0,0,0)",
    showlegend=False, hovermode=False,
    xaxis=dict(AX, domain=[fx(181), fx(546)], range=[0, 120], tickvals=A_XTICKS, ticktext=[str(v) for v in A_XTICKS],
               anchor="y", ticklabelstandoff=4),
    yaxis=dict(AX, domain=[fy(439), fy(74)], range=[-14, 2.5], tickvals=A_YTICKS, ticktext=A_YLABELS,
               anchor="x", ticklabelstandoff=2),
    xaxis2=dict(AX, domain=[fx(168), fx(547.5)], range=[1, 1.3], tickvals=B_XTICKS, ticktext=B_XLABELS,
                anchor="y2", ticklabelstandoff=5),
    yaxis2=dict(AX, domain=[fy(901), fy(521.5)], range=[.2, 1.05], tickvals=B_YTICKS, ticktext=B_YLABELS,
                anchor="x2", ticklabelstandoff=1),
    xaxis7=dict(domain=[0, 1], range=[0, W], visible=False, anchor="y7", fixedrange=True),
    yaxis7=dict(domain=[0, 1], range=[H, 0], visible=False, anchor="x7", fixedrange=True),
    annotations=ann, shapes=shapes,
)

post = """
document.documentElement.style.overflow='hidden';
document.body.style.margin='0';
var gd=document.getElementById('{plot_id}');
gd.querySelectorAll('.annotation').forEach(function(a){
  var i=+a.getAttribute('data-index');
  if(i>=%d && i<%d){
    var t=a.querySelector('text');
    var n=t.textContent.split(' ').length-1;
    t.style.wordSpacing=((1200-t.getComputedTextLength())/n)+'px';
  }
});
""" % (cap_start, cap_start + 10)

fig.write_html("out.html", config=dict(displayModeBar=False), post_script=post)
